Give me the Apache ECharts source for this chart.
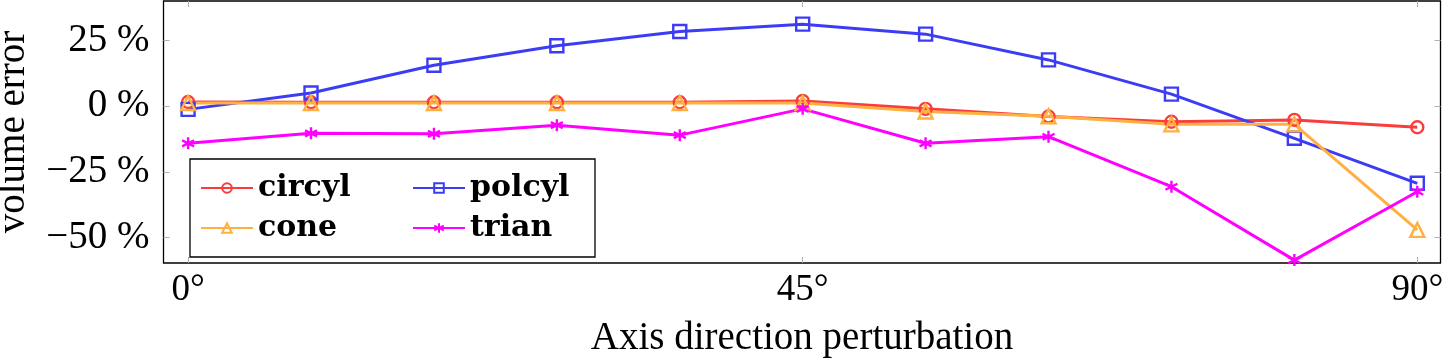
<!DOCTYPE html>
<html><head><meta charset="utf-8">
<script src="https://cdn.jsdelivr.net/npm/echarts@6/dist/echarts.min.js"></script>
<style>html,body{margin:0;padding:0;background:#fff}#c{width:1442px;height:359px}</style>
</head><body><div id="c"></div>
<script>
const angles = [0, 9, 18, 27, 36, 45, 54, 63, 72, 81, 90];
const circyl = [1.6, 1.5, 1.5, 1.5, 1.5, 2.0, -1.0, -3.9, -5.9, -5.2, -8.0];
const polcyl = [-1.2, 5.0, 15.6, 23.0, 28.4, 31.2, 27.4, 17.6, 4.6, -12.2, -29.3];
const cone = [1.2, 1.2, 1.2, 1.2, 1.2, 1.2, -2.0, -3.8, -6.9, -6.9, -47.0];
const trian = [-14.1, -10.3, -10.5, -7.2, -11.0, -1.0, -14.1, -11.6, -30.6, -58.5, -32.5];
const xTicks = [0, 45, 90];
const yTicks = [-50, -25, 0, 25];

const FONT = '"Liberation Serif", serif';
const LFONT = '"DejaVu Serif", serif';
const colors = {circyl:'#fa3c3c', polcyl:'#3c3cf5', cone:'#ffb040', trian:'#ff00ff'};
const pairs = a => angles.map((x, i) => [x, a[i]]);
const star = 'path://M0,-10 L0,10 M-8.66,-5 L8.66,5 M-8.66,5 L8.66,-5';

function mk(name, data, symbol, size, fill) {
  return {
    name, type: 'line', data: pairs(data), symbol, symbolSize: size,
    lineStyle: {color: colors[name], width: 3},
    itemStyle: {color: fill, borderColor: colors[name], borderWidth: 2.4},
    emphasis: {disabled: true}, animation: false, z: 3
  };
}

const chart = echarts.init(document.getElementById('c'), null, {renderer: 'canvas'});
const tick = {show: true, inside: true, length: 6, lineStyle: {color: '#b0b0b0', width: 1}};
const line = {show: false, onZero: false};
chart.setOption({
  animation: false,
  grid: {left: 163.5, right: 1.5, top: 1, bottom: 96, show: true, borderColor: '#000', borderWidth: 1.3,
         containLabel: false, outerBoundsMode: 'none'},
  xAxis: [{
    type: 'value', min: -1.8, max: 91.7, position: 'bottom',
    axisLine: line, splitLine: {show: false},
    axisTick: Object.assign({customValues: xTicks}, tick),
    axisLabel: {customValues: xTicks, formatter: v => v + '°', fontFamily: FONT, fontSize: 37, color: '#000', margin: 9},
    name: 'Axis direction perturbation', nameLocation: 'middle', nameGap: 56,
    nameTextStyle: {fontFamily: FONT, fontSize: 39, color: '#000'}
  }, {
    type: 'value', min: -1.8, max: 91.7, position: 'top',
    axisLine: line, splitLine: {show: false}, axisLabel: {show: false},
    axisTick: Object.assign({customValues: xTicks}, tick)
  }],
  yAxis: [{
    type: 'value', min: -59.6, max: 40, position: 'left',
    axisLine: line, splitLine: {show: false},
    axisTick: Object.assign({customValues: yTicks}, tick),
    axisLabel: {customValues: yTicks, formatter: v => (v < 0 ? '\u2212' + (-v) : v) + ' %', fontFamily: FONT, fontSize: 39, color: '#000', margin: 14},
    name: 'volume error', nameLocation: 'middle', nameGap: 130, nameRotate: 90,
    nameTextStyle: {fontFamily: FONT, fontSize: 39, color: '#000'}
  }, {
    type: 'value', min: -59.6, max: 40, position: 'right',
    axisLine: line, splitLine: {show: false}, axisLabel: {show: false},
    axisTick: Object.assign({customValues: yTicks}, tick)
  }],
  legend: [{
    data: ['circyl', 'cone'], orient: 'vertical', left: 195, top: 168, itemGap: 10,
    itemWidth: 52, itemHeight: 12,
    textStyle: {fontFamily: LFONT, fontSize: 30, fontWeight: 'bold', color: '#000'}
  }, {
    data: ['polcyl', 'trian'], orient: 'vertical', left: 407, top: 168, itemGap: 10,
    itemWidth: 52, itemHeight: 12,
    textStyle: {fontFamily: LFONT, fontSize: 30, fontWeight: 'bold', color: '#000'}
  }],
  graphic: [{type: 'rect', shape: {x: 190, y: 159, width: 405, height: 98}, style: {fill: '#fff', stroke: '#000', lineWidth: 1.3}, z: 2, silent: true}],
  series: [
    mk('circyl', circyl, 'circle', 12, 'rgba(0,0,0,0)'),
    mk('polcyl', polcyl, 'rect', 13, 'rgba(0,0,0,0)'),
    mk('cone', cone, 'triangle', 14, 'rgba(0,0,0,0)'),
    mk('trian', trian, star, 12, colors.trian)
  ]
});
</script></body></html>
